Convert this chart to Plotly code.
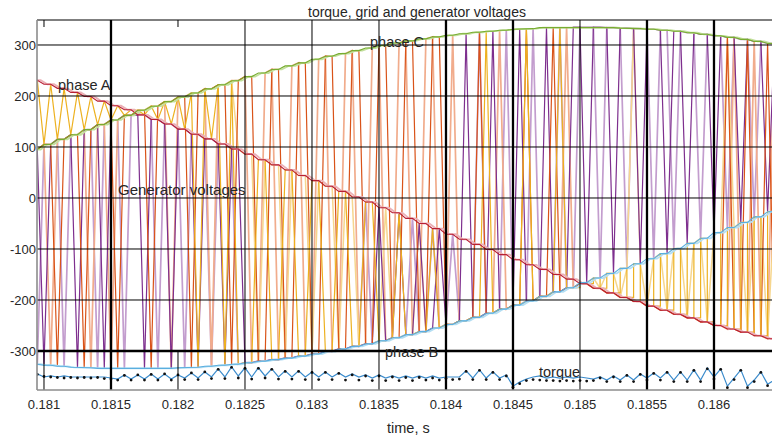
import plotly.graph_objects as go

# ---------------- data ----------------
T_START = 0.18090      # time of first sample, s
DT_GRID = 0.0001       # grid-voltage sample step, s
DT_GEN = 0.00005       # generator / torque sample step, s

# grid phase voltages (sampled every DT_GRID)
GRID_A = [231, 223, 215, 207, 199, 190, 181, 173, 163, 154, 145, 135, 125, 116, 106, 96, 86, 75, 65, 55,
          44, 34, 23, 13, 2, -8, -19, -29, -40, -50, -60, -71, -81, -91, -101, -111, -121, -131, -140, -150,
          -159, -168, -177, -186, -195, -203, -212, -220, -228, -235, -243, -250, -257, -263, -270, -276, -282]
GRID_B = [-326, -328, -330, -332, -333, -334, -335, -335, -335, -335, -334, -333, -332, -330, -328, -326,
          -323, -320, -317, -314, -310, -306, -301, -296, -291, -286, -280, -274, -268, -262, -255, -248,
          -241, -234, -226, -218, -210, -202, -193, -184, -176, -166, -157, -148, -138, -129, -119, -109,
          -99, -89, -79, -68, -58, -48, -37, -27, -16]
GRID_C = [95, 105, 115, 124, 134, 144, 153, 162, 172, 180, 189, 198, 206, 214, 222, 230, 238, 245, 252, 259,
          265, 272, 278, 283, 289, 294, 299, 304, 308, 312, 316, 319, 322, 325, 327, 329, 331, 332, 334, 334,
          335, 335, 335, 334, 333, 332, 331, 329, 327, 324, 321, 318, 315, 311, 307, 303, 298]

# generator phase voltages: grid phase connected at each DT_GEN sample
GEN_PURPLE = ("CCBCCCCBCCCBCCCC" "ABAAABAAABAAABAA" "BBBBBBBBBBBBBBBB" "BBBBABBABBABBABB"
              "BCBBBCBBBCBBBCBBBC" "CBCCCBCCCBCCCB" "CCBCCCBCCCBCCCBC")
GEN_PURPLE_L = ("CBCCCBCCCCBCCCBC" "AAABAAABAAABAAAB" "BBBBBBBBBBBBBBBB" "BBABBBBBBABBABBA"
                "BBBCBBBCBBBCBBBCBB" "CCCBCCCBCCCBCC" "BCCCBCCCBCCCBCCC")
GEN_ORANGE = ("CCCCBCCCBCCCCBCC" "CCBCCCCCBCCCCCBC" "CCBBCCBBCCBBCCBB" "CCBBCCBBCCBBCCBB"
              "BBBCBBBBBBCBBBCBBB" "AAAAAAAAAAAAAA" "AAAAAAAACAACAACA")
GEN_ORANGE_L = ("CCCBCCCCCBCCBCCC" "CCCCCBCCCCCBCCCC" "CBBCCBBCCBBCCBBC" "CBBCCBBCCBBCCBBC"
                "BBBBBBCBBBBBBBBBCB" "AAAAAAAAAAAAAA" "AAAAAAAAACAACAAC")
GEN_YELLOW = ("CACACACACACACACA" "CACACACACBCACBCB" "BBAABBAABBAABBAA" "BBAABBBABBBBABBB"
              "BBBBCBBBBBCBBBBCBB" "BABABABABABABA" "BABABABABABABABA")
GEN_YELLOW_L = ("CCCCCCCCCCCCCCCC" "CCCCCCCCCCCCCCCA" "AABAAABAAABAAABA" "ABBBBABBBBABBBBB"
                "BBBBBBBBBBBBBBBBBB" "ABBABBABCBABBA" "BBABBABBCBBABBAB")

# torque (scaled onto the voltage axis), sampled every DT_GEN
TORQUE = [-345, -345, -351, -349, -351, -349, -351, -351, -351, -350, -351, -351, -353, -355, -347, -355,
          -347, -355, -345, -355, -345, -355, -347, -353, -343, -353, -341, -351, -335, -351, -331, -349,
          -333, -351, -333, -349, -335, -351, -339, -351, -339, -351, -341, -351, -341, -351, -343, -351,
          -345, -351, -347, -353, -347, -353, -349, -353, -349, -353, -349, -353, -349, -353, -351, -351,
          -351, -339, -353, -337, -353, -341, -353, -347, -369, -361, -355, -351, -349, -353, -351, -353,
          -351, -353, -351, -353, -355, -351, -357, -349, -357, -347, -357, -345, -353, -343, -353, -341,
          -357, -341, -357, -337, -357, -333, -351, -335, -369, -353, -337, -369, -357, -341, -365, -357]
TORQUE_DOTS = [-344, -346, -350, -351, -352, -353, -352, -353, -352, -353, -352, -354, -355, -357, -348, -357,
               -347, -357, -346, -357, -345, -357, -347, -356, -343, -356, -341, -354, -336, -354, -332, -353,
               -334, -355, -334, -353, -336, -355, -340, -355, -340, -356, -342, -356, -342, -356, -344, -357,
               -347, -357, -349, -358, -349, -358, -351, -358, -352, -358, -352, -357, -353, -357, -354, -356,
               -355, -340, -356, -338, -356, -342, -356, -349, -371, -364, -358, -356, -357, -358, -358, -359,
               -358, -359, -358, -359, -358, -353, -360, -351, -360, -348, -360, -346, -357, -344, -357, -342,
               -360, -342, -360, -338, -360, -335, -355, -336, -372, -356, -338, -372, -360, -342, -368, -360]

X_TICKS = [0.181, 0.1815, 0.182, 0.1825, 0.183, 0.1835, 0.184, 0.1845, 0.185, 0.1855, 0.186]
X_TICK_TEXT = ["0.181", "0.1815", "0.182", "0.1825", "0.183", "0.1835", "0.184", "0.1845", "0.185",
               "0.1855", "0.186"]
Y_TICKS = [-300, -200, -100, 0, 100, 200, 300]
Y_TICK_TEXT = ["-300", "-200", "-100", "0", "100", "200", "300"]

X_RANGE = [0.1809478, 0.1864329]
Y_RANGE = [-376.5, 349]

# ---------------- build ----------------
n = len(TORQUE)
for s in (GEN_PURPLE, GEN_PURPLE_L, GEN_ORANGE, GEN_ORANGE_L, GEN_YELLOW, GEN_YELLOW_L, TORQUE_DOTS):
    assert len(s) == n, len(s)

ratio = int(round(DT_GRID / DT_GEN))
t = [T_START + DT_GEN * j for j in range(n)]
phase = {"A": GRID_A, "B": GRID_B, "C": GRID_C}


def gen_vals(states):
    return [phase[s][j // ratio] for j, s in enumerate(states)]


def env_vals(grid):
    return [grid[j // ratio] for j in range(n)]


fig = go.Figure()


def line(x, y, color, width, shape="linear"):
    fig.add_trace(go.Scatter(x=x, y=y, mode="lines", line=dict(color=color, width=width, shape=shape),
                             hoverinfo="skip", showlegend=False))


# generator voltages
line(t, gen_vals(GEN_PURPLE_L), "#C39DCE", 1.7)
line(t, gen_vals(GEN_ORANGE_L), "#F1AC8C", 1.7)
line(t, gen_vals(GEN_YELLOW_L), "#F6D68E", 1.5)
line(t, gen_vals(GEN_PURPLE), "#7E2F8E", 1.2)
line(t, gen_vals(GEN_ORANGE), "#D95319", 1.2)
yv = gen_vals(GEN_YELLOW)
split = 81
line(t[:split + 1], yv[:split + 1], "#EDB120", 1.2)
line(t[split:], yv[split:], "#EDB120", 1.2, "hv")

# grid voltages: light shadow + dark line
tl = [x + DT_GEN / 2 for x in t]
line(tl, env_vals(GRID_A), "#EBB0B6", 1.8)
line(tl, env_vals(GRID_C), "#C3E09D", 1.8)
line(tl, env_vals(GRID_B), "#B3DEF3", 1.8)
line(t, env_vals(GRID_A), "#B81F33", 1.1)
line(t, env_vals(GRID_C), "#77AC30", 1.1)
line(t, env_vals(GRID_B), "#5AAEDF", 1.1)

# torque
line(t, TORQUE, "#3A8BCC", 1.2)
fig.add_trace(go.Scatter(x=t, y=TORQUE_DOTS, mode="markers", marker=dict(color="#111111", size=2.8),
                         hoverinfo="skip", showlegend=False))

# ---------------- grid lines / frame (drawn on top, as in the original) ----------------
shapes = []
for yv_ in [300, 200, 100, 0, -100, -200]:
    shapes.append(dict(type="line", xref="paper", yref="y", x0=0, x1=1, y0=yv_, y1=yv_,
                       line=dict(color="black", width=1), layer="above"))
shapes.append(dict(type="line", xref="paper", yref="y", x0=0, x1=1, y0=-300, y1=-300,
                   line=dict(color="black", width=2.6), layer="above"))
for xv in [0.1825, 0.183, 0.1835, 0.185]:
    shapes.append(dict(type="line", xref="x", yref="paper", x0=xv, x1=xv, y0=0, y1=1,
                       line=dict(color="black", width=1), layer="above"))
for xv in [0.181, 0.182]:
    shapes.append(dict(type="line", xref="x", yref="y", x0=xv, x1=xv, y0=Y_RANGE[0], y1=-300,
                       line=dict(color="black", width=1), layer="above"))
    shapes.append(dict(type="line", xref="x", yref="paper", x0=xv, x1=xv, y0=1 - 7 / 370, y1=1,
                       line=dict(color="black", width=1), layer="above"))
for xv in [0.1815, 0.184, 0.1845, 0.1855, 0.186]:
    shapes.append(dict(type="line", xref="x", yref="paper", x0=xv, x1=xv, y0=0, y1=1,
                       line=dict(color="black", width=2.3), layer="above"))
shapes.append(dict(type="line", xref="paper", yref="paper", x0=0, x1=1, y0=1, y1=1,
                   line=dict(color="black", width=1.2), layer="above"))
shapes.append(dict(type="line", xref="paper", yref="paper", x0=0, x1=0, y0=0, y1=1,
                   line=dict(color="#8C8C8C", width=1.6), layer="above"))
shapes.append(dict(type="line", xref="paper", yref="paper", x0=0, x1=1, y0=0, y1=0,
                   line=dict(color="#8C8C8C", width=1.6), layer="above"))

FONT = "Liberation Sans, Arial, Helvetica, sans-serif"
TXT = "#262626"
annotations = [
    dict(text="torque, grid and generator voltages", xref="paper", yref="paper", x=0.517, y=1.0203,
         xanchor="center", yanchor="middle", showarrow=False, font=dict(size=14, color=TXT, family=FONT)),
    dict(text="time, s", xref="paper", yref="paper", x=0.506, y=-0.1027,
         xanchor="center", yanchor="middle", showarrow=False, font=dict(size=14.5, color=TXT, family=FONT)),
    dict(text="phase A", x=0.18109, y=222, xanchor="left", yanchor="middle", showarrow=False,
         font=dict(size=14.5, color=TXT, family=FONT)),
    dict(text="phase C", x=0.18342, y=306, xanchor="left", yanchor="middle", showarrow=False,
         font=dict(size=14.5, color=TXT, family=FONT)),
    dict(text="Generator voltages", x=0.18154, y=16, xanchor="left", yanchor="middle", showarrow=False,
         font=dict(size=15, color=TXT, family=FONT)),
    dict(text="phase B", x=0.18353, y=-302, xanchor="left", yanchor="middle", showarrow=False,
         font=dict(size=14.5, color=TXT, family=FONT)),
    dict(text="torque", x=0.18468, y=-341, xanchor="left", yanchor="middle", showarrow=False,
         font=dict(size=14.5, color=TXT, family=FONT)),
]

fig.update_layout(
    width=772, height=438,
    margin=dict(l=37, r=0, t=20, b=48),
    paper_bgcolor="white", plot_bgcolor="white",
    showlegend=False,
    font=dict(family=FONT, color=TXT, size=13),
    shapes=shapes, annotations=annotations,
    xaxis=dict(range=X_RANGE, tickvals=X_TICKS, ticktext=X_TICK_TEXT, showgrid=False, zeroline=False,
               showline=False, ticks="", ticklabelstandoff=5,
               tickfont=dict(size=13, color=TXT, family=FONT)),
    yaxis=dict(range=Y_RANGE, tickvals=Y_TICKS, ticktext=Y_TICK_TEXT, showgrid=False, zeroline=False,
               showline=False, ticks="", tickfont=dict(size=13, color=TXT, family=FONT)),
)

fig.write_html("out.html",
               config={"displayModeBar": False, "staticPlot": True},
               post_script="document.body.style.margin='0px';document.body.style.padding='0px';"
                           "document.body.style.overflow='hidden';")
